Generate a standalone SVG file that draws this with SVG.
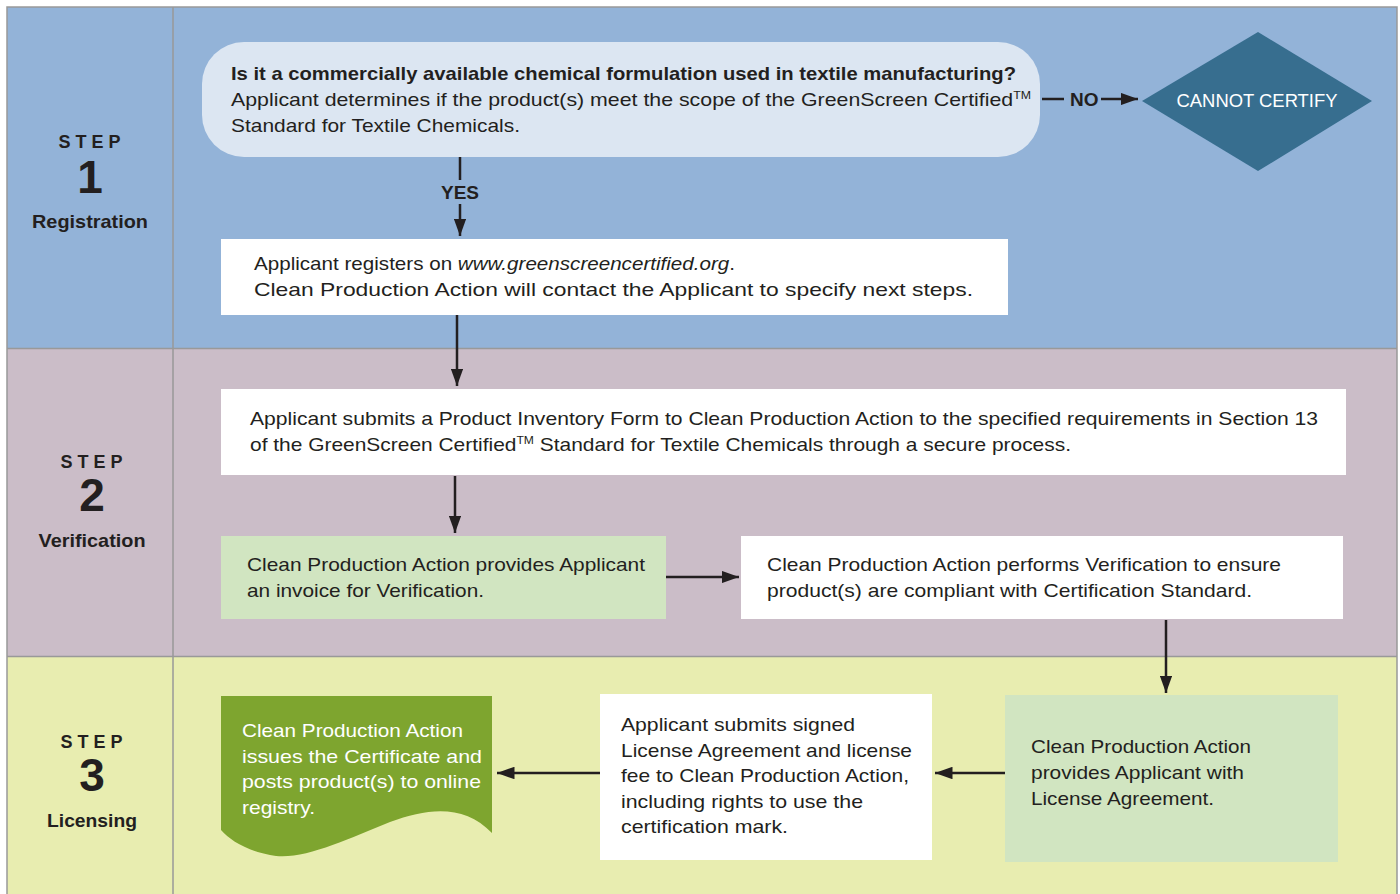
<svg xmlns="http://www.w3.org/2000/svg" width="1400" height="894" viewBox="0 0 1400 894">
<defs>
<marker id="ah" viewBox="0 0 14 10" refX="14" refY="5" markerWidth="7" markerHeight="5" orient="auto" markerUnits="strokeWidth">
<path d="M0,0 L14,5 L0,10 z" fill="#231f20"/>
</marker>
<style>
text{font-family:"Liberation Sans",Arial,sans-serif;fill:#231f20}
.t{font-size:19px}
.b{font-weight:bold}
.w{fill:#ffffff}
.step{font-size:18px;font-weight:bold;letter-spacing:5px;text-anchor:middle}
.num{font-size:46px;font-weight:bold;text-anchor:middle}
.lab{font-size:19px;font-weight:bold;text-anchor:middle}
.con{stroke:#231f20;stroke-width:2.5;fill:none}
.sup{font-size:11px}
</style>
</defs>
<rect width="1400" height="894" fill="#ffffff"/>
<g id="lanes">
<rect x="7" y="7" width="1390" height="341" fill="#93b3d8"/>
<rect x="7" y="348" width="1390" height="308" fill="#cbbdc8"/>
<rect x="7" y="656" width="1390" height="238" fill="#e8edb0"/>
<g stroke="#999999" stroke-width="1.5" fill="none">
<rect x="7" y="7" width="1390" height="900"/>
<line x1="173" y1="7" x2="173" y2="894"/>
<line x1="7" y1="348.5" x2="1397" y2="348.5"/>
<line x1="7" y1="656.5" x2="1397" y2="656.5"/>
</g>
</g>
<g id="step1">
<text class="step" x="92" y="148">STEP</text>
<text class="num" x="90" y="193">1</text>
<text class="lab" x="90" y="228" textLength="116" lengthAdjust="spacingAndGlyphs">Registration</text>
</g>
<g id="step2">
<text class="step" x="94" y="468">STEP</text>
<text class="num" x="92" y="511">2</text>
<text class="lab" x="92" y="547" textLength="107" lengthAdjust="spacingAndGlyphs">Verification</text>
</g>
<g id="step3">
<text class="step" x="94" y="748">STEP</text>
<text class="num" x="92" y="791">3</text>
<text class="lab" x="92" y="827" textLength="90" lengthAdjust="spacingAndGlyphs">Licensing</text>
</g>
<g id="connectors">
<line class="con" x1="1042" y1="99" x2="1064" y2="99"/>
<text class="t b" x="1070" y="106">NO</text>
<line class="con" x1="1101" y1="99" x2="1138" y2="99" marker-end="url(#ah)"/>
<line class="con" x1="460" y1="157" x2="460" y2="180"/>
<text class="t b" x="460" y="199" text-anchor="middle">YES</text>
<line class="con" x1="460" y1="204" x2="460" y2="236" marker-end="url(#ah)"/>
<line class="con" x1="457" y1="315" x2="457" y2="386" marker-end="url(#ah)"/>
<line class="con" x1="455" y1="476" x2="455" y2="533" marker-end="url(#ah)"/>
<line class="con" x1="666" y1="577" x2="739" y2="577" marker-end="url(#ah)"/>
<line class="con" x1="1166" y1="620" x2="1166" y2="693" marker-end="url(#ah)"/>
<line class="con" x1="1005" y1="773" x2="935" y2="773" marker-end="url(#ah)"/>
<line class="con" x1="600" y1="773" x2="497" y2="773" marker-end="url(#ah)"/>
</g>
<g id="question">
<rect x="202" y="42" width="838" height="115" rx="42" ry="42" fill="#dce6f2"/>
<text class="t b" x="231" y="80" textLength="785" lengthAdjust="spacingAndGlyphs">Is it a commercially available chemical formulation used in textile manufacturing?</text>
<text class="t" x="231" y="106" textLength="800" lengthAdjust="spacingAndGlyphs">Applicant determines if the product(s) meet the scope of the GreenScreen Certified<tspan class="sup" dy="-7">TM</tspan></text>
<text class="t" x="231" y="132" textLength="289" lengthAdjust="spacingAndGlyphs">Standard for Textile Chemicals.</text>
</g>
<g id="cannot">
<polygon points="1142,101 1258,32 1372,101 1258,171" fill="#376e8f"/>
<text class="t w" x="1257" y="107" text-anchor="middle" textLength="161" lengthAdjust="spacingAndGlyphs">CANNOT CERTIFY</text>
</g>
<g id="register">
<rect x="221" y="239" width="787" height="76" fill="#ffffff"/>
<text class="t" x="254" y="270" textLength="481" lengthAdjust="spacingAndGlyphs">Applicant registers on <tspan font-style="italic">www.greenscreencertified.org</tspan>.</text>
<text class="t" x="254" y="296" textLength="719" lengthAdjust="spacingAndGlyphs">Clean Production Action will contact the Applicant to specify next steps.</text>
</g>
<g id="inventory">
<rect x="221" y="389" width="1125" height="86" fill="#ffffff"/>
<text class="t" x="250" y="425" textLength="1068" lengthAdjust="spacingAndGlyphs">Applicant submits a Product Inventory Form to Clean Production Action to the specified requirements in Section 13</text>
<text class="t" x="250" y="451" textLength="821" lengthAdjust="spacingAndGlyphs">of the GreenScreen Certified<tspan class="sup" dy="-7">TM</tspan><tspan dy="7"> Standard for Textile Chemicals through a secure process.</tspan></text>
</g>
<g id="invoice">
<rect x="221" y="536" width="445" height="83" fill="#d1e5c1"/>
<text class="t" x="247" y="571" textLength="398" lengthAdjust="spacingAndGlyphs">Clean Production Action provides Applicant</text>
<text class="t" x="247" y="597" textLength="237" lengthAdjust="spacingAndGlyphs">an invoice for Verification.</text>
</g>
<g id="verify">
<rect x="741" y="536" width="602" height="83" fill="#ffffff"/>
<text class="t" x="767" y="571" textLength="514" lengthAdjust="spacingAndGlyphs">Clean Production Action performs Verification to ensure</text>
<text class="t" x="767" y="597" textLength="485" lengthAdjust="spacingAndGlyphs">product(s) are compliant with Certification Standard.</text>
</g>
<g id="license">
<rect x="1005" y="695" width="333" height="167" fill="#d1e5c1"/>
<text class="t" x="1031" y="753" textLength="220" lengthAdjust="spacingAndGlyphs">Clean Production Action</text>
<text class="t" x="1031" y="779" textLength="213" lengthAdjust="spacingAndGlyphs">provides Applicant with</text>
<text class="t" x="1031" y="805" textLength="183" lengthAdjust="spacingAndGlyphs">License Agreement.</text>
</g>
<g id="submit">
<rect x="600" y="694" width="332" height="166" fill="#ffffff"/>
<text class="t" x="621" y="731" textLength="234" lengthAdjust="spacingAndGlyphs">Applicant submits signed</text>
<text class="t" x="621" y="757" textLength="291" lengthAdjust="spacingAndGlyphs">License Agreement and license</text>
<text class="t" x="621" y="782" textLength="288" lengthAdjust="spacingAndGlyphs">fee to Clean Production Action,</text>
<text class="t" x="621" y="808" textLength="242" lengthAdjust="spacingAndGlyphs">including rights to use the</text>
<text class="t" x="621" y="833" textLength="167" lengthAdjust="spacingAndGlyphs">certification mark.</text>
</g>
<g id="certificate">
<path d="M221,696 L492,696 L492,833 C465,805 430,807 390,822 C345,840 300,862 270,855 C245,850 230,840 221,830 Z" fill="#7ea52f"/>
<text class="t w" x="242" y="737" textLength="221" lengthAdjust="spacingAndGlyphs">Clean Production Action</text>
<text class="t w" x="242" y="763" textLength="240" lengthAdjust="spacingAndGlyphs">issues the Certificate and</text>
<text class="t w" x="242" y="788" textLength="239" lengthAdjust="spacingAndGlyphs">posts product(s) to online</text>
<text class="t w" x="242" y="814" textLength="73" lengthAdjust="spacingAndGlyphs">registry.</text>
</g>
</svg>
